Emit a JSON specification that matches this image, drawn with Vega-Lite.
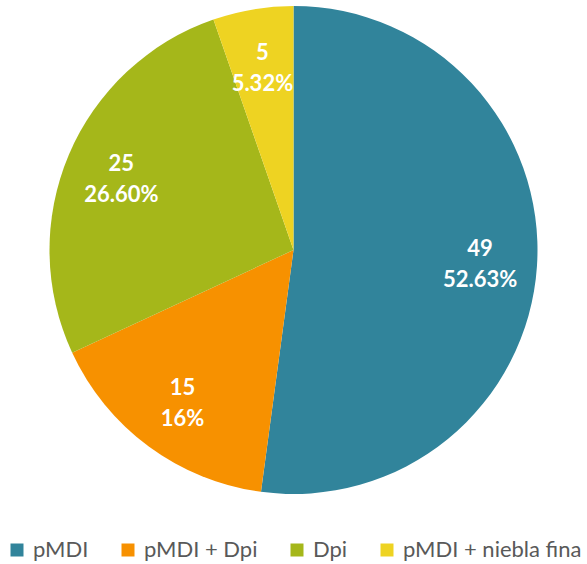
{
  "$schema": "https://vega.github.io/schema/vega-lite/v6.json",
  "width": 587,
  "height": 500,
  "padding": 0,
  "autosize": {"type": "pad"},
  "background": "white",
  "config": {"view": {"stroke": null}, "legend": {"layout": {"bottom": {"anchor": "middle"}}}},
  "data": {
    "values": [
      {"k": 1, "cat": "pMDI", "n": 49, "lab": ["49", "52.63%"]},
      {"k": 2, "cat": "pMDI + Dpi", "n": 15, "lab": ["15", "16%"]},
      {"k": 3, "cat": "Dpi", "n": 25, "lab": ["25", "26.60%"]},
      {"k": 4, "cat": "pMDI + niebla fina", "n": 5, "lab": ["5", "5.32%"]}
    ]
  },
  "encoding": {
    "theta": {"field": "n", "type": "quantitative", "stack": true},
    "order": {"field": "k", "type": "quantitative"}
  },
  "layer": [
    {
      "mark": {"type": "arc", "outerRadius": 244},
      "encoding": {
        "color": {
          "field": "cat",
          "type": "nominal",
          "scale": {
            "domain": ["pMDI", "pMDI + Dpi", "Dpi", "pMDI + niebla fina"],
            "range": ["#31849B", "#F79100", "#A5B71A", "#EED322"]
          },
          "legend": {
            "title": null,
            "orient": "bottom",
            "direction": "horizontal",
            "offset": 39,
            "symbolType": "square",
            "symbolSize": 169,
            "symbolStrokeWidth": 0,
            "labelFontSize": 22,
            "labelFont": "Lato",
            "labelColor": "#595959",
            "labelLimit": 400,
            "columnPadding": 28,
            "symbolOffset": 0,
            "labelOffset": 5
          }
        }
      }
    },
    {
      "mark": {"type": "text", "radius": 187, "fontSize": 22, "fontWeight": "bold", "font": "Lato", "color": "white", "lineHeight": 31, "baseline": "middle", "dy": -13},
      "encoding": {"text": {"field": "lab"}}
    }
  ]
}
